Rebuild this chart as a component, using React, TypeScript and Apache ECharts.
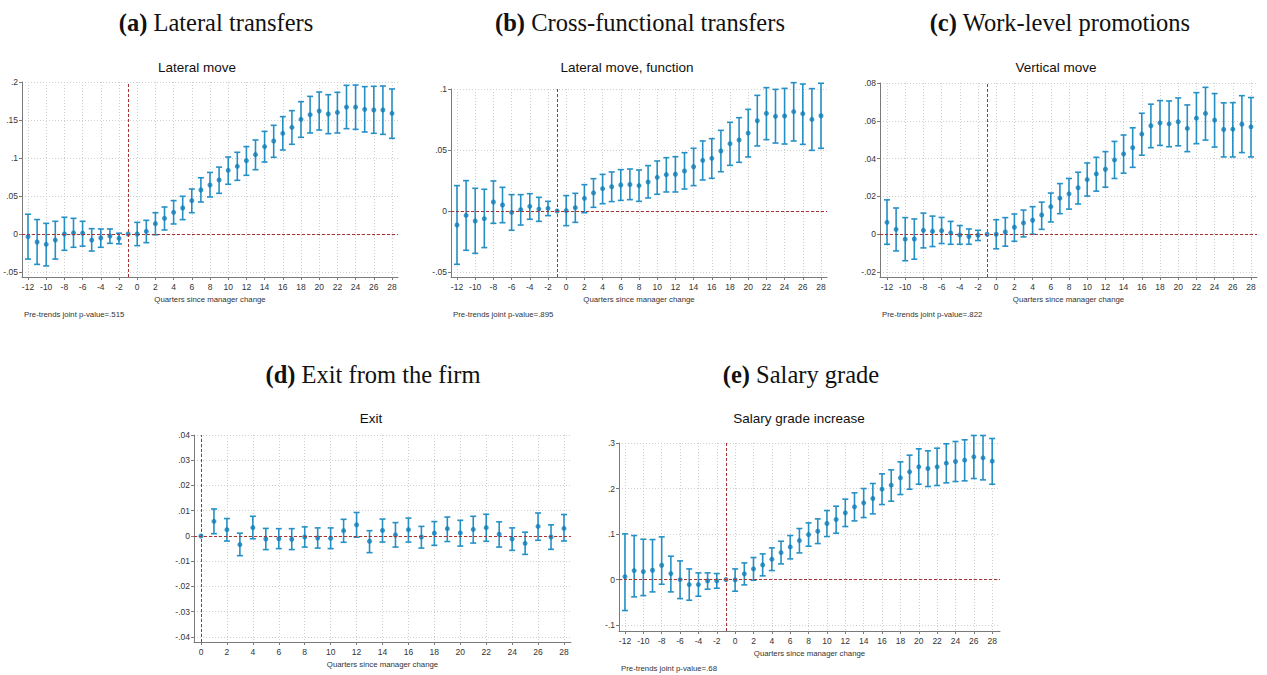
import React, { useEffect, useRef } from "react";
import * as echarts from "echarts";

// ---------- categories / ticks ----------
const quarters = [-12, -11, -10, -9, -8, -7, -6, -5, -4, -3, -2, -1, 0, 1, 2, 3, 4, 5, 6, 7, 8, 9, 10, 11, 12, 13, 14, 15, 16, 17, 18, 19, 20, 21, 22, 23, 24, 25, 26, 27, 28];
const quartersExit = [0, 1, 2, 3, 4, 5, 6, 7, 8, 9, 10, 11, 12, 13, 14, 15, 16, 17, 18, 19, 20, 21, 22, 23, 24, 25, 26, 27, 28];
const xTicks = [-12, -10, -8, -6, -4, -2, 0, 2, 4, 6, 8, 10, 12, 14, 16, 18, 20, 22, 24, 26, 28];
const xTicksExit = [0, 2, 4, 6, 8, 10, 12, 14, 16, 18, 20, 22, 24, 26, 28];

const yTicksLateral = [-0.05, 0, 0.05, 0.1, 0.15, 0.2];
const yTicksFunction = [-0.05, 0, 0.05, 0.1];
const yTicksVertical = [-0.02, 0, 0.02, 0.04, 0.06, 0.08];
const yTicksExit = [-0.04, -0.03, -0.02, -0.01, 0, 0.01, 0.02, 0.03, 0.04];
const yTicksSalary = [-0.1, 0, 0.1, 0.2, 0.3];

// ---------- (a) Lateral move ----------
const lateralEst = [-0.0035, -0.0105, -0.0136, -0.008, 0.0, 0.0013, 0.001, -0.008, -0.0053, -0.0026, -0.0057, 0,
  0, 0.0035, 0.0136, 0.0206, 0.0285, 0.0342, 0.0439, 0.0579, 0.0645, 0.071, 0.0838, 0.089, 0.0965, 0.1044, 0.115, 0.1224, 0.1325, 0.1404, 0.1509, 0.157, 0.1618, 0.1579, 0.16, 0.167, 0.167, 0.164, 0.1632, 0.1632, 0.1588];
const lateralHi = [0.026, 0.019, 0.014, 0.0167, 0.022, 0.0206, 0.0167, 0.007, 0.0066, 0.0066, 0.001, 0,
  0.0153, 0.018, 0.028, 0.0355, 0.0439, 0.0496, 0.0592, 0.074, 0.081, 0.088, 0.1013, 0.1075, 0.115, 0.1237, 0.135, 0.143, 0.1544, 0.1623, 0.1741, 0.1811, 0.1868, 0.1833, 0.1864, 0.1956, 0.196, 0.1939, 0.1943, 0.1947, 0.1908];
const lateralLo = [-0.033, -0.04, -0.042, -0.033, -0.0215, -0.0175, -0.016, -0.0224, -0.0175, -0.0123, -0.013, 0,
  -0.0153, -0.0114, -0.001, 0.0053, 0.0132, 0.0189, 0.028, 0.0421, 0.0487, 0.0535, 0.0654, 0.0706, 0.0772, 0.0846, 0.0947, 0.1009, 0.1105, 0.118, 0.1272, 0.1329, 0.1368, 0.132, 0.1329, 0.1386, 0.1377, 0.1342, 0.1325, 0.1311, 0.1259];

// ---------- (b) Lateral move, function ----------
const functionEst = [-0.0115, -0.0036, -0.0082, -0.0063, 0.0074, 0.0049, -0.0011, 0.0011, 0.0038, 0.0016, 0.0022, 0,
  0.0003, 0.0027, 0.0104, 0.0148, 0.0183, 0.0199, 0.0213, 0.0217, 0.0208, 0.0238, 0.0276, 0.0298, 0.0301, 0.0328, 0.0363, 0.0415, 0.0432, 0.0492, 0.0552, 0.0582, 0.0639, 0.074, 0.08, 0.0776, 0.0779, 0.0814, 0.0798, 0.0751, 0.0781];
const functionHi = [0.0208, 0.0249, 0.0186, 0.0178, 0.0246, 0.0194, 0.0134, 0.0134, 0.0142, 0.0112, 0.0079, 0,
  0.0126, 0.0145, 0.0216, 0.0265, 0.03, 0.032, 0.0339, 0.0344, 0.0336, 0.0372, 0.041, 0.0437, 0.0445, 0.0478, 0.0514, 0.0574, 0.0593, 0.0661, 0.0727, 0.0765, 0.0833, 0.0948, 0.1011, 0.0997, 0.1005, 0.1052, 0.1041, 0.1003, 0.1047];
const functionLo = [-0.0437, -0.0322, -0.0347, -0.03, -0.0101, -0.0096, -0.0158, -0.0115, -0.0068, -0.0085, -0.0038, 0,
  -0.012, -0.0093, -0.0014, 0.003, 0.006, 0.0077, 0.0087, 0.0093, 0.0079, 0.0107, 0.0137, 0.0156, 0.0156, 0.018, 0.0208, 0.0254, 0.0268, 0.0322, 0.0374, 0.0399, 0.0443, 0.0533, 0.0585, 0.0557, 0.0549, 0.0574, 0.0546, 0.0497, 0.0514];

// ---------- (c) Vertical move ----------
const verticalEst = [0.0063, 0.0026, -0.0026, -0.0025, 0.0021, 0.0016, 0.0019, 0.0007, -0.0004, -0.0012, -0.0005, 0,
  0, 0.0012, 0.0037, 0.006, 0.0074, 0.0102, 0.0146, 0.0191, 0.0214, 0.0246, 0.0289, 0.0319, 0.0344, 0.0393, 0.0425, 0.0458, 0.053, 0.0574, 0.0589, 0.0584, 0.0595, 0.056, 0.0614, 0.0639, 0.0604, 0.0554, 0.0556, 0.0582, 0.0568];
const verticalHi = [0.0182, 0.0139, 0.0088, 0.0081, 0.0112, 0.0096, 0.0089, 0.0068, 0.0046, 0.0028, 0.0021, 0,
  0.0077, 0.0088, 0.0107, 0.0128, 0.0146, 0.017, 0.0218, 0.0268, 0.0295, 0.0328, 0.0377, 0.0407, 0.0437, 0.0491, 0.0525, 0.0563, 0.064, 0.0688, 0.0707, 0.0705, 0.0721, 0.0684, 0.0749, 0.0777, 0.0744, 0.0695, 0.0696, 0.0733, 0.0723];
const verticalLo = [-0.0053, -0.0088, -0.014, -0.0132, -0.0072, -0.0065, -0.0049, -0.0053, -0.0053, -0.0053, -0.0033, 0,
  -0.0077, -0.0063, -0.0037, -0.0014, 0.0, 0.0026, 0.0065, 0.0109, 0.0133, 0.016, 0.0202, 0.0228, 0.0249, 0.0295, 0.0323, 0.0354, 0.0418, 0.0458, 0.047, 0.0463, 0.0468, 0.0437, 0.0479, 0.0498, 0.0461, 0.0409, 0.0409, 0.0432, 0.0409];

// ---------- (d) Exit ----------
const exitEst = [0, 0.0058, 0.0025, -0.0034, 0.0033, -0.0012, -0.0011, -0.0013, -0.0004, -0.0008, -0.0009, 0.0021, 0.0044, -0.0021, 0.0022, 0.0004, 0.0025, -0.0004, 0.0011, 0.0029, 0.0012, 0.0026, 0.0033, 0.0007, -0.0012, -0.0029, 0.0038, -0.0004, 0.003];
const exitHi = [0, 0.0107, 0.0069, 0.0011, 0.0078, 0.003, 0.0029, 0.0029, 0.0036, 0.0032, 0.0032, 0.0066, 0.0093, 0.0021, 0.0067, 0.0053, 0.0071, 0.0038, 0.0057, 0.0075, 0.0062, 0.0078, 0.0086, 0.0056, 0.0032, 0.0015, 0.0091, 0.0044, 0.0085];
const exitLo = [0, 0.0009, -0.002, -0.0078, -0.0011, -0.0054, -0.005, -0.0054, -0.0044, -0.0048, -0.005, -0.0025, -0.0005, -0.0066, -0.0024, -0.0044, -0.0024, -0.0048, -0.0037, -0.0022, -0.004, -0.0028, -0.0021, -0.0044, -0.0057, -0.0073, -0.0017, -0.0053, -0.002];

// ---------- (e) Salary grade increase ----------
const salaryEst = [0.0066, 0.0198, 0.0176, 0.0205, 0.0315, 0.0132, 0.0, -0.011, -0.011, -0.0029, -0.0029, 0,
  -0.0007, 0.0125, 0.0234, 0.0322, 0.0447, 0.0593, 0.0718, 0.0857, 0.0989, 0.1062, 0.1231, 0.1319, 0.1465, 0.1597, 0.1685, 0.178, 0.1985, 0.2073, 0.2234, 0.2366, 0.2476, 0.244, 0.2476, 0.2557, 0.2593, 0.2623, 0.2696, 0.2674, 0.26];
const salaryHi = [0.1004, 0.0967, 0.0886, 0.0879, 0.0938, 0.0513, 0.041, 0.0234, 0.0147, 0.0147, 0.0132, 0,
  0.0234, 0.0366, 0.0484, 0.0564, 0.0696, 0.0842, 0.0967, 0.1121, 0.1245, 0.1333, 0.1516, 0.1612, 0.1766, 0.1905, 0.2, 0.211, 0.2322, 0.241, 0.2586, 0.2733, 0.2872, 0.2828, 0.2886, 0.2982, 0.3033, 0.307, 0.3165, 0.3165, 0.3099];
const salaryLo = [-0.068, -0.038, -0.0352, -0.0271, -0.0103, -0.0271, -0.0418, -0.0454, -0.0366, -0.0212, -0.019, 0,
  -0.0256, -0.0117, -0.0015, 0.0081, 0.0198, 0.0344, 0.0454, 0.0586, 0.0733, 0.0791, 0.0945, 0.1018, 0.1165, 0.1289, 0.1363, 0.1443, 0.1648, 0.1722, 0.1868, 0.1985, 0.2095, 0.2044, 0.2066, 0.2125, 0.2154, 0.2168, 0.222, 0.219, 0.2095];

// ---------- styles ----------
const CI_COLOR = "#2590c6";
const PT_COLOR = "#0e7db8";
const REF_COLOR = "#a83232";
const AXIS_COLOR = "#7a7a7a";
const TEXT_COLOR = "#333333";
const SANS = "'Liberation Sans', Arial, sans-serif";
const SERIF = "'Liberation Serif', 'Times New Roman', serif";
const X_NAME = "Quarters since manager change";

function fmt(v: number): string {
  if (Math.abs(v) < 1e-9) return "0";
  const s = String(parseFloat(v.toFixed(4)));
  return s.replace(/^(-?)0\./, "$1.");
}

type Panel = {
  letter: string;
  title: string;
  subtitle: string;
  x: number[];
  est: number[];
  lo: number[];
  hi: number[];
  xTicks: number[];
  yTicks: number[];
  refX: number;
  pText: string | null;
  left: number; top: number; width: number; height: number;
  xMin: number; xMax: number; yMin: number; yMax: number;
  titleX: number; titleY: number; subX: number; subY: number;
};

const panels: Panel[] = [
  {
    letter: "(a)", title: "Lateral transfers", subtitle: "Lateral move",
    x: quarters, est: lateralEst, lo: lateralLo, hi: lateralHi,
    xTicks, yTicks: yTicksLateral, refX: -1, pText: "Pre-trends joint p-value=.515",
    left: 22, top: 82, width: 376, height: 195,
    xMin: -12.66, xMax: 28.66, yMin: -0.0566, yMax: 0.2,
    titleX: 216, titleY: 22, subX: 197, subY: 67,
  },
  {
    letter: "(b)", title: "Cross-functional transfers", subtitle: "Lateral move, function",
    x: quarters, est: functionEst, lo: functionLo, hi: functionHi,
    xTicks, yTicks: yTicksFunction, refX: -1, pText: "Pre-trends joint p-value=.895",
    left: 451, top: 89, width: 376, height: 188,
    xMin: -12.66, xMax: 28.66, yMin: -0.0541, yMax: 0.1,
    titleX: 640, titleY: 22, subX: 627, subY: 67,
  },
  {
    letter: "(c)", title: "Work-level promotions", subtitle: "Vertical move",
    x: quarters, est: verticalEst, lo: verticalLo, hi: verticalHi,
    xTicks, yTicks: yTicksVertical, refX: -1, pText: "Pre-trends joint p-value=.822",
    left: 880, top: 83, width: 377, height: 194,
    xMin: -12.77, xMax: 28.66, yMin: -0.0226, yMax: 0.08,
    titleX: 1060, titleY: 22, subX: 1056, subY: 67,
  },
  {
    letter: "(d)", title: "Exit from the firm", subtitle: "Exit",
    x: quartersExit, est: exitEst, lo: exitLo, hi: exitHi,
    xTicks: xTicksExit, yTicks: yTicksExit, refX: 0, pText: null,
    left: 194, top: 435, width: 377, height: 207,
    xMin: -0.54, xMax: 28.54, yMin: -0.042, yMax: 0.04,
    titleX: 373, titleY: 374, subX: 371, subY: 418,
  },
  {
    letter: "(e)", title: "Salary grade", subtitle: "Salary grade increase",
    x: quarters, est: salaryEst, lo: salaryLo, hi: salaryHi,
    xTicks, yTicks: yTicksSalary, refX: -1, pText: "Pre-trends joint p-value=.68",
    left: 619, top: 443, width: 381, height: 188,
    xMin: -12.65, xMax: 28.85, yMin: -0.113, yMax: 0.3,
    titleX: 801, titleY: 374, subX: 799, subY: 418,
  },
];

function buildOption() {
  const grid = panels.map((p) => ({
    left: p.left, top: p.top, width: p.width, height: p.height, containLabel: false,
  }));
  const xAxis = panels.map((p, i) => ({
    gridIndex: i, type: "value", min: p.xMin, max: p.xMax,
    axisLine: { show: true, onZero: false, lineStyle: { color: AXIS_COLOR, width: 1 } },
    axisTick: { show: true, length: 3, customValues: p.xTicks, lineStyle: { color: AXIS_COLOR } },
    axisLabel: { customValues: p.xTicks, fontSize: 8.5, color: TEXT_COLOR, margin: 5, fontFamily: SANS, formatter: (v: number) => String(v) },
    splitLine: { show: true, lineStyle: { type: [1, 2], color: "#cfcfcf", width: 1 } },
    name: X_NAME, nameLocation: "middle", nameGap: 18,
    nameTextStyle: { fontSize: 7.8, color: TEXT_COLOR, fontFamily: SANS },
  }));
  const yAxis = panels.map((p, i) => ({
    gridIndex: i, type: "value", min: p.yMin, max: p.yMax,
    axisLine: { show: true, onZero: false, lineStyle: { color: AXIS_COLOR, width: 1 } },
    axisTick: { show: true, length: 3, customValues: p.yTicks, lineStyle: { color: AXIS_COLOR } },
    axisLabel: { customValues: p.yTicks, fontSize: 8.5, color: TEXT_COLOR, margin: 4, fontFamily: SANS, formatter: (v: number) => fmt(v) },
    splitLine: { show: true, lineStyle: { type: [1, 2], color: "#cfcfcf", width: 1 } },
  }));

  const series: any[] = [];
  panels.forEach((p, i) => {
    const ci = p.x.map((q, k) => [q, p.lo[k], p.hi[k]]);
    const pts = p.x.map((q, k) => [q, p.est[k]]);
    series.push({
      type: "custom", xAxisIndex: i, yAxisIndex: i, data: ci, clip: false, z: 2, silent: true,
      encode: { x: 0, y: [1, 2] },
      renderItem: (_params: any, api: any) => {
        const xv = api.value(0), lo = api.value(1), hi = api.value(2);
        if (lo === hi) return { type: "group", children: [] };
        const a = api.coord([xv, hi]);
        const b = api.coord([xv, lo]);
        const w = 3;
        const st = { stroke: CI_COLOR, lineWidth: 1.6 };
        return {
          type: "group",
          children: [
            { type: "line", shape: { x1: a[0], y1: a[1], x2: b[0], y2: b[1] }, style: st },
            { type: "line", shape: { x1: a[0] - w, y1: a[1], x2: a[0] + w, y2: a[1] }, style: st },
            { type: "line", shape: { x1: b[0] - w, y1: b[1], x2: b[0] + w, y2: b[1] }, style: st },
          ],
        };
      },
    });
    series.push({
      type: "scatter", xAxisIndex: i, yAxisIndex: i, data: pts, symbol: "circle", symbolSize: 5,
      itemStyle: { color: PT_COLOR }, z: 3, silent: true, clip: false,
      markLine: {
        silent: true, symbol: ["none", "none"], label: { show: false },
        lineStyle: { type: [3, 2], color: REF_COLOR, width: 1 },
        data: [{ yAxis: 0 }, { xAxis: p.refX }],
      },
    });
  });

  const graphic: any[] = [];
  panels.forEach((p) => {
    graphic.push({
      type: "text", x: p.titleX, y: p.titleY, silent: true,
      style: {
        text: "{b|" + p.letter + "} " + p.title,
        rich: { b: { fontWeight: "bold", fontFamily: SERIF, fontSize: 24.5, fill: "#111" } },
        fontFamily: SERIF, fontSize: 24.5, fill: "#111",
        textAlign: "center", textVerticalAlign: "middle",
      },
    });
    graphic.push({
      type: "text", x: p.subX, y: p.subY, silent: true,
      style: {
        text: p.subtitle, fontFamily: SANS, fontSize: 13.5, fill: "#111",
        textAlign: "center", textVerticalAlign: "middle",
      },
    });
    if (p.pText) {
      graphic.push({
        type: "text", x: p.left + 2, y: p.top + p.height + 37, silent: true,
        style: {
          text: p.pText, fontFamily: SANS, fontSize: 7.8, fill: TEXT_COLOR,
          textAlign: "left", textVerticalAlign: "middle",
        },
      });
    }
  });

  return {
    animation: false,
    backgroundColor: "#ffffff",
    grid, xAxis, yAxis, series, graphic,
  };
}

export default function App() {
  const ref = useRef<HTMLDivElement>(null);
  useEffect(() => {
    if (!ref.current) return;
    const chart = echarts.init(ref.current, undefined, { renderer: "svg" });
    chart.setOption(buildOption() as any);
    return () => chart.dispose();
  }, []);
  return (
    <div
      ref={ref}
      style={{ position: "absolute", left: 0, top: 0, width: 1267, height: 675, background: "#fff" }}
    />
  );
}
